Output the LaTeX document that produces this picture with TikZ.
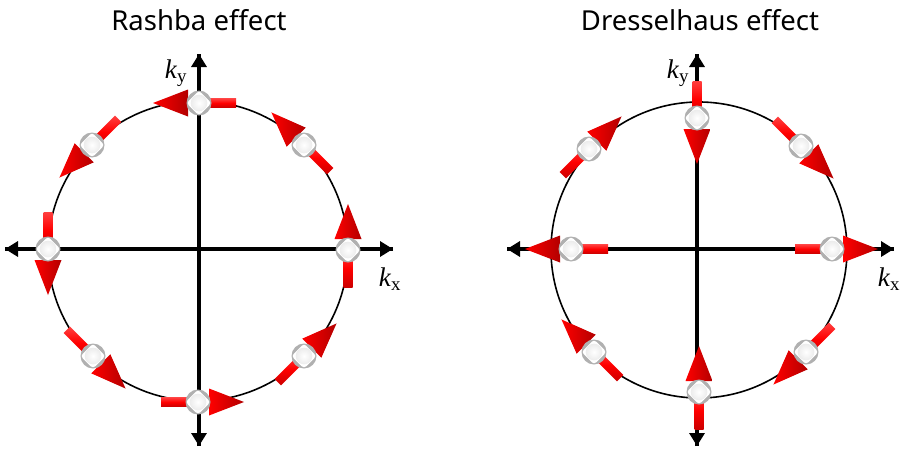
\documentclass[tikz,border=0pt]{standalone}
\usepackage{fontspec}
\setmainfont{Noto Sans}
\newfontfamily\tms{Liberation Serif}
\usetikzlibrary{arrows.meta}
\tikzset{
  axisline/.style={line width=3.6pt, -{Triangle[length=13pt,width=15pt]}},
  ring/.style={line width=1.6pt, black},
  shaftshade/.style={top color=red!75!white, bottom color=red!80!black, middle color=red},
  headshade/.style={left color=red, right color=red!70!black},
  titletext/.style={font=\fontsize{27.5}{32}\selectfont},
  klabel/.style={font=\tms\fontsize{27}{31}\selectfont},
}
\newcommand\spinarrow[3]{%
  \begin{scope}[shift={(#1,#2)}, rotate=#3]
    \shade[shaftshade] (-37,-4.5) rectangle (0,4.5);
    \shade[headshade] (11,-13.5) -- (46,0) -- (11,13.5) -- cycle;
  \end{scope}
  \begin{scope}[shift={(#1,#2)}]
    \fill[gray!62] (0,0) circle (12.5);
    \begin{scope}
      \clip (0,0) circle (12);
      \fill[white, rounded corners=3pt] (0,-12.5) -- (12.5,0) -- (0,12.5) -- (-12.5,0) -- cycle;
    \end{scope}
    \shade[inner color=white, outer color=gray!15] (0,0) circle (8.3);
  \end{scope}}
\begin{document}
\begin{tikzpicture}[x=1pt, y=-1pt]
\useasboundingbox (0,0) rectangle (906,450);
% titles
\node[titletext] (t1) at (199,20) {Rashba effect};
\node[titletext] (t2) at (700,20) {Dresselhaus effect};
% left axes
\coordinate (Lw) at (5,249);
\coordinate (Le) at (393,249);
\coordinate (Ln) at (199,54);
\coordinate (Ls) at (199,446);
\draw[axisline] (Lw) -- (Le);
\draw[axisline] (Le) -- (Lw);
\draw[axisline] (Ls) -- (Ln);
\draw[axisline] (Ln) -- (Ls);
\node[klabel] (Lky) at (176,73) {\textit{k}\textsubscript{y}};
\node[klabel] (Lkx) at (390,279) {\textit{k}\textsubscript{x}};
\coordinate (Lc) at (198,251);
\draw[ring] (Lc) circle (150);
% right axes
\coordinate (Rw) at (507,249);
\coordinate (Re) at (894,249);
\coordinate (Rn) at (697,54);
\coordinate (Rs) at (697,446);
\draw[axisline] (Rw) -- (Re);
\draw[axisline] (Re) -- (Rw);
\draw[axisline] (Rs) -- (Rn);
\draw[axisline] (Rn) -- (Rs);
\node[klabel] (Rky) at (678,73) {\textit{k}\textsubscript{y}};
\node[klabel] (Rkx) at (889,279) {\textit{k}\textsubscript{x}};
\coordinate (Rc) at (699,250);
\draw[ring] (Rc) circle (148);
% Rashba spins
\spinarrow{199}{103}{180}
\spinarrow{348}{250}{90}
\spinarrow{198}{402}{0}
\spinarrow{48}{249}{270}
\spinarrow{304}{145}{135}
\spinarrow{92}{145}{225}
\spinarrow{93}{356}{315}
\spinarrow{304}{356}{45}
% Dresselhaus spins
\spinarrow{697}{118}{270}
\spinarrow{832}{249}{0}
\spinarrow{571}{249}{180}
\spinarrow{699}{392}{90}
\spinarrow{589}{149}{45}
\spinarrow{801}{146}{315}
\spinarrow{594}{352}{135}
\spinarrow{806}{352}{225}
\end{tikzpicture}
\end{document}
